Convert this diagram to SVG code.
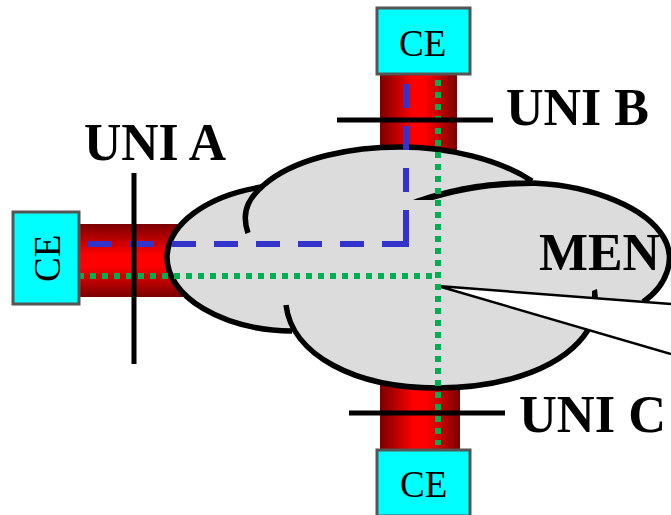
<svg xmlns="http://www.w3.org/2000/svg" width="671" height="515" viewBox="0 0 671 515">
<style>
.ce{fill:#00ffff;stroke:#555;stroke-width:3}
.cet{font-family:"Liberation Serif",serif;font-size:37px;fill:#000}
.lab{font-family:"Liberation Serif",serif;font-size:53px;font-weight:bold;fill:#000}
.bar{stroke:#000;stroke-width:5;fill:none}
.cl{stroke:#000;stroke-width:5.5;fill:none;stroke-linecap:butt}
.blue{stroke:#3333cc;stroke-width:6;fill:none;stroke-dasharray:24 18}
.green{stroke:#00b050;stroke-width:6;fill:none;stroke-dasharray:6 6}
</style>
<defs>
<linearGradient id="gh" x1="0" y1="0" x2="1" y2="0"><stop offset="0" stop-color="#7a0000"/><stop offset=".42" stop-color="#ff0000"/><stop offset=".58" stop-color="#ff0000"/><stop offset="1" stop-color="#7a0000"/></linearGradient>
<linearGradient id="gv" x1="0" y1="0" x2="0" y2="1"><stop offset="0" stop-color="#7a0000"/><stop offset=".42" stop-color="#ff0000"/><stop offset=".58" stop-color="#ff0000"/><stop offset="1" stop-color="#7a0000"/></linearGradient>
</defs>
<g id="tubes">
<rect x="79" y="224" width="115" height="73" fill="url(#gv)"/>
<rect x="380" y="75" width="77" height="85" fill="url(#gh)"/>
<rect x="380" y="380" width="80" height="70" fill="url(#gh)"/>
</g>
<g id="men-cloud">
<path fill="#dcdcdc" d="M262 187A128 74 0 0 0 167 257A128 74 0 0 0 290 330C320 372 375 388 437 388C510 388 566 365 588 330L438 286L643 302C665 287 680 258 660 232C640 205 585 183 530 183C495 158 450 147 400 147C340 147 295 160 262 187Z"/>
<path class="cl" d="M262 187A128 74 0 0 0 167 257A128 74 0 0 0 292 331"/>
<path class="cl" d="M248 233C240 210 250 195 270 180C300 158 350 147 400 147C450 147 500 160 532 181"/>
<path fill="#000" d="M413 200C440 190 480 180 525 180.5L540 181L540 186C500 186 470 189 433 200Z"/>
<path class="cl" d="M525 183C585 183 640 205 660 232C680 258 665 287 643 302"/>
<path class="cl" d="M286 305C292 355 355 388 437 388C510 388 566 365 588 330"/>
<path fill="#000" d="M592 291L597 289L598 298L592 298Z"/>
<path fill="#fff" d="M438 286L671 304L671 354Z"/>
<path stroke="#000" stroke-width="2.5" fill="none" d="M438 286L671 304M438 286L671 354"/>
<text class="lab" x="539" y="270" textLength="121" lengthAdjust="spacingAndGlyphs">MEN</text>
</g>
<g id="connectors">
<path class="blue" d="M88 244H406"/>
<path class="blue" d="M406 84V234"/>
<path stroke="#3333cc" stroke-width="6" d="M406 210V247"/>
<path class="green" d="M78 276H438"/>
<path class="green" d="M438 80V445"/>
</g>
<g id="uni-a"><path class="bar" d="M134 173V364"/><text class="lab" x="84" y="160" textLength="142" lengthAdjust="spacingAndGlyphs">UNI A</text></g>
<g id="uni-b"><path class="bar" d="M337 120H493"/><text class="lab" x="506" y="125" textLength="143" lengthAdjust="spacingAndGlyphs">UNI B</text></g>
<g id="uni-c"><path class="bar" d="M349 413H505"/><text class="lab" x="519" y="432" textLength="147" lengthAdjust="spacingAndGlyphs">UNI C</text></g>
<g id="ce-left"><rect class="ce" x="13" y="212" width="66" height="92"/><text class="cet" transform="translate(60 282) rotate(-90)">CE</text></g>
<g id="ce-top"><rect class="ce" x="377" y="8" width="93" height="66"/><text class="cet" x="399" y="56">CE</text></g>
<g id="ce-bottom"><rect class="ce" x="377" y="450" width="93" height="66"/><text class="cet" x="400" y="497">CE</text></g>
</svg>
